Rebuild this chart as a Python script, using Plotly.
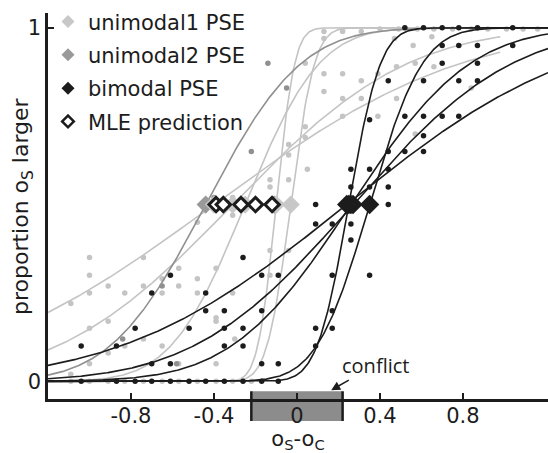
import math
import numpy as np
import plotly.graph_objects as go

# ---------------- data ----------------
# fitted psychometric functions (cumulative Gaussian): PSE (mu) and sigma
uni1_mu = [-0.40, -0.31, -0.25, -0.10, -0.03]
uni1_sigma = [0.93, 0.66, 0.28, 0.07, 0.09]
uni1_xmax = [0.98, 0.98, 1.21, 1.21, 1.21]
uni2_mu = [-0.44]
uni2_sigma = [0.36]
uni2_pse = [-0.44, -0.11]
bi_mu = [0.25, 0.35, 0.26, 0.27, 0.24]
bi_sigma = [0.12, 0.20, 0.45, 0.60, 0.85]
mle_pse = [-0.39, -0.355, -0.27, -0.20, -0.12]

# bimodal data points
bi_x = [-1.04, -0.87, -0.78, -0.70, -0.61, -0.52, -0.44, -0.35, -0.26, -0.17, -0.09,
        -0.70, -0.61, -0.17, -0.09,
        -1.04, -0.87, -0.35, -0.26, 0.09,
        -0.78, -0.52, -0.35, -0.26, 0.09, 0.17,
        -0.44, -0.35, -0.17, 0.17,
        -0.70, -0.44,
        -0.61, -0.17, -0.09, 0.17, 0.35,
        -0.26,
        0.26,
        0.09, 0.17, 0.26,
        0.09, 0.44,
        0.26, 0.35, 0.44,
        0.26, 0.35, 0.44,
        0.44, 0.52, 0.61,
        0.61,
        0.35,
        0.52, 0.61, 0.70, 0.78,
        0.44, 0.61, 0.78, 0.87,
        0.70, 0.87,
        0.70, 0.78, 0.87, 1.04,
        0.52, 0.61, 0.70, 0.78, 0.87, 1.04]
bi_y = [0.0] * 11 + \
       [0.05] * 4 + \
       [0.10] * 5 + \
       [0.15] * 6 + \
       [0.20] * 4 + \
       [0.25] * 2 + \
       [0.30] * 5 + \
       [0.35] + \
       [0.40] + \
       [0.445] * 3 + \
       [0.50] * 2 + \
       [0.55] * 3 + \
       [0.60] * 3 + \
       [0.65] * 3 + \
       [0.695] + \
       [0.74] + \
       [0.75] * 4 + \
       [0.85] * 4 + \
       [0.90] * 2 + \
       [0.95] * 4 + \
       [1.0] * 6

# unimodal 1 data points (light gray)
u1_x = [-1.09, -1.00, -1.00, -1.00, -1.00, -0.91, -0.91, -0.83, -0.74, -0.74, -0.65, -0.65,
        -0.57, -0.57, -0.48, -0.48, -0.39, -0.39, -0.31, -0.13, -0.13, -0.04, -0.48, -0.31,
        0.13, 0.22, 0.31, 0.04, 0.13, 0.13, 0.22, 0.31, 0.39, 0.13, 0.22, 0.31, 0.39, 0.22,
        0.04, 0.04, -0.04, -0.04, 0.05, -0.13, -0.04, -0.13, -0.31,
        -1.09, -1.00, -0.91, -0.83, -0.74, -0.65, -0.57, -0.39, -0.30, -0.39,
        -1.09, -1.00, -0.91, -0.83, -0.74, -0.65, -0.57, -0.48, -0.39, -0.31, -0.22,
        0.40, 0.49, 0.58, 0.66, 0.75, 0.84, 0.92, 1.01, 1.09, 1.16,
        0.47, 0.56, 0.65, 0.48, 0.57, 0.66, 0.48, 0.84, 0.57]
u1_y = [0.22, 0.35, 0.30, 0.25, 0.15, 0.27, 0.17, 0.25, 0.35, 0.27, 0.29, 0.25,
        0.32, 0.27, 0.29, 0.25, 0.32, 0.18, 0.25, 0.37, 0.30, 0.37, 0.45, 0.47,
        0.99, 0.99, 0.99, 0.90, 0.97, 0.87, 0.87, 0.85, 0.87, 0.82, 0.80, 0.80, 0.75, 0.75,
        0.72, 0.69, 0.67, 0.64, 0.60, 0.57, 0.57, 0.55, 0.52,
        0.02, 0.05, 0.08, 0.10, 0.12, 0.10, 0.05, 0.17, 0.12, 0.05,
        0.0, 0.0, 0.0, 0.0, 0.0, 0.0, 0.0, 0.0, 0.0, 0.0, 0.0,
        0.997, 0.997, 0.997, 0.997, 0.997, 0.997, 0.997, 0.997, 0.997, 0.997,
        0.97, 0.95, 0.975, 0.89, 0.90, 0.89, 0.80, 0.83, 0.70]

# unimodal 2 data points (mid gray)
u2_x = [-0.14, -0.05, -0.22, -0.40, -0.84, -0.58, -0.65]
u2_y = [0.90, 0.83, 0.65, 0.52, 0.12, 0.05, 0.27]

x_ticks = [-0.8, -0.4, 0, 0.4, 0.8]
x_ticklabels = ["-0.8", "-0.4", "0", "0.4", "0.8"]
y_ticks = [0, 1]
y_ticklabels = ["0", "1"]
conflict_range = [-0.22, 0.22]

# ---------------- styles ----------------
C1 = "#c4c4c4"
C2 = "#909090"
CB = "#1c1c1c"
FONT = "DejaVu Sans"
XMIN, XMAX = -1.2, 1.21
LW = 1.6
DOT = 5.5


def cgauss(x, mu, s):
    return 0.5 * (1 + math.erf((x - mu) / (s * math.sqrt(2))))


fig = go.Figure()

# light gray curves + points
fig.add_trace(go.Scatter(x=u1_x, y=u1_y, mode="markers",
                         marker=dict(color=C1, size=DOT), showlegend=False))
for mu, s, xm in zip(uni1_mu, uni1_sigma, uni1_xmax):
    xs = np.linspace(XMIN, xm, 400)
    fig.add_trace(go.Scatter(x=xs, y=[cgauss(v, mu, s) for v in xs], mode="lines",
                             line=dict(color=C1, width=LW), showlegend=False))
# mid gray
fig.add_trace(go.Scatter(x=u2_x, y=u2_y, mode="markers",
                         marker=dict(color=C2, size=DOT), showlegend=False))
for mu, s in zip(uni2_mu, uni2_sigma):
    xs = np.linspace(XMIN, XMAX, 400)
    fig.add_trace(go.Scatter(x=xs, y=[cgauss(v, mu, s) for v in xs], mode="lines",
                             line=dict(color=C2, width=LW), showlegend=False))
# black curves + points
fig.add_trace(go.Scatter(x=bi_x, y=bi_y, mode="markers",
                         marker=dict(color=CB, size=DOT), showlegend=False))
for mu, s in zip(bi_mu, bi_sigma):
    xs = np.linspace(XMIN, XMAX, 400)
    fig.add_trace(go.Scatter(x=xs, y=[cgauss(v, mu, s) for v in xs], mode="lines",
                             line=dict(color=CB, width=LW), showlegend=False))

# PSE diamonds
fig.add_trace(go.Scatter(x=uni2_pse, y=[0.5] * len(uni2_pse), mode="markers",
                         marker=dict(symbol="diamond", color="#999999", size=14),
                         showlegend=False))
fig.add_trace(go.Scatter(x=uni1_mu, y=[0.5] * len(uni1_mu), mode="markers",
                         marker=dict(symbol="diamond", color="#c8c8c8", size=14),
                         showlegend=False))
fig.add_trace(go.Scatter(x=mle_pse, y=[0.5] * len(mle_pse), mode="markers",
                         marker=dict(symbol="diamond", color="white", size=11,
                                     line=dict(color=CB, width=3)),
                         showlegend=False))
fig.add_trace(go.Scatter(x=bi_mu, y=[0.5] * len(bi_mu), mode="markers",
                         marker=dict(symbol="diamond", color=CB, size=15),
                         showlegend=False))

# legend entries
legend_items = [
    ("unimodal1 PSE", dict(symbol="diamond", color="#c8c8c8", size=10)),
    ("unimodal2 PSE", dict(symbol="diamond", color="#999999", size=10)),
    ("bimodal PSE", dict(symbol="diamond", color=CB, size=10)),
    ("MLE prediction", dict(symbol="diamond", color="white", size=9,
                            line=dict(color=CB, width=2.5))),
]
for i, (name, mk) in enumerate(legend_items):
    fig.add_trace(go.Scatter(x=[None], y=[None], mode="markers", name=name,
                             marker=mk, legendgroup=f"g{i}", showlegend=True))

# conflict box
fig.add_shape(type="rect", xref="x", yref="paper", x0=conflict_range[0], x1=conflict_range[1],
              y0=-0.057, y1=0.02, fillcolor="#8c8c8c", line=dict(width=0), layer="below")
for xc in conflict_range:
    fig.add_shape(type="line", xref="x", yref="paper", x0=xc, x1=xc, y0=-0.057, y1=0.02,
                  line=dict(color=CB, width=2.5), layer="above")

fig.add_annotation(x=0.165, y=-0.025, xref="x", yref="y", text="conflict",
                   showarrow=True, ax=44, ay=-25, arrowhead=2, arrowsize=1.2,
                   arrowwidth=1.5, arrowcolor=CB,
                   font=dict(family="Open Sans", size=20, color=CB))

# y-axis title
fig.add_annotation(x=-0.052, y=0.5, xref="paper", yref="paper",
                   text="proportion o<sub>S</sub> larger", textangle=-90,
                   showarrow=False, xanchor="center", yanchor="middle",
                   font=dict(family=FONT, size=22, color=CB))

fig.update_layout(
    width=548, height=453,
    margin=dict(l=48, r=0, t=13, b=50),
    paper_bgcolor="white", plot_bgcolor="rgba(0,0,0,0)",
    font=dict(family=FONT, size=21, color=CB),
    showlegend=True,
    legend=dict(x=0.0, y=1.03, xanchor="left", yanchor="top",
                bgcolor="rgba(0,0,0,0)", font=dict(family=FONT, size=21, color=CB),
                tracegroupgap=3, traceorder="grouped", itemwidth=30),
    xaxis=dict(range=[XMIN, XMAX], showgrid=False, zeroline=False, showline=True,
               linecolor=CB, linewidth=2.5, ticks="inside", ticklen=6, tickwidth=2,
               tickcolor=CB, tickvals=x_ticks, ticktext=x_ticklabels,
               ticklabelstandoff=-4,
               title=dict(text="o<sub>S</sub>-o<sub>C</sub>", standoff=10,
                          font=dict(family=FONT, size=21))),
    yaxis=dict(range=[-0.05, 1.042], showgrid=False, zeroline=False, showline=True,
               linecolor=CB, linewidth=2.5, ticks="inside", ticklen=6, tickwidth=2,
               tickcolor=CB, tickvals=y_ticks, ticktext=y_ticklabels),
)

fig.write_html("out.html")
